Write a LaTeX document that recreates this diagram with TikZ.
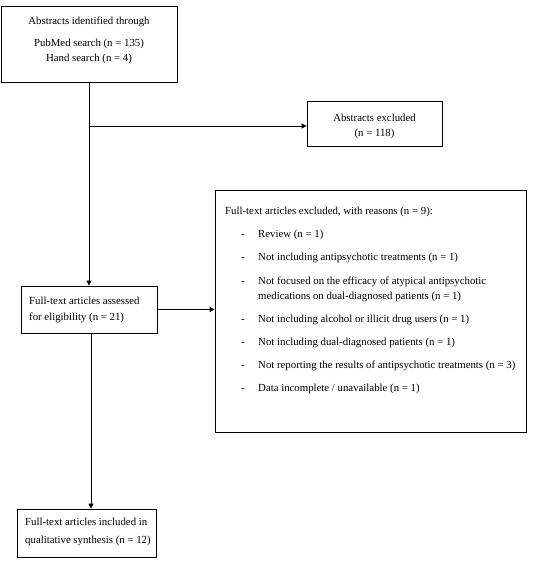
\documentclass[tikz,border=0pt]{standalone}
\usepackage{fontspec}
\setmainfont{Liberation Serif}
\usetikzlibrary{arrows.meta}
\begin{document}
\begin{tikzpicture}[x=1pt,y=1pt,
  box/.style={draw, line width=0.8pt, inner sep=0pt},
  txt/.style={inner sep=0pt, font=\fontsize{10.8}{13}\selectfont},
  arr/.style={line width=0.9pt, -{Triangle[length=5pt,width=5pt]}},
  ln/.style={line width=0.9pt}]
\useasboundingbox (0,0) rectangle (537,-565);
% boxes
\node[box, minimum width=176, minimum height=76] (b1) at (89,-44) {};
\node[box, minimum width=135, minimum height=45] (b2) at (374.5,-123.5) {};
\node[box, minimum width=311, minimum height=242] (b3) at (370.5,-311) {};
\node[box, minimum width=136, minimum height=47] (b4) at (89,-309.5) {};
\node[box, minimum width=139, minimum height=48] (b5) at (86.5,-533) {};
% box 1 text
\node[txt, anchor=base] (t1a) at (89,-24) {Abstracts identified through};
\node[txt, anchor=base] (t1b) at (89,-46) {PubMed search (n = 135)};
\node[txt, anchor=base] (t1c) at (89,-61) {Hand search (n = 4)};
% box 2 text
\node[txt, anchor=base] (t2a) at (374.5,-121) {Abstracts excluded};
\node[txt, anchor=base] (t2b) at (374.5,-136) {(n = 118)};
% box 3 text
\node[txt, anchor=base west] (t3h) at (225,-214) {Full-text articles excluded, with reasons (n = 9):};
\node[txt, anchor=base west] (d1) at (241,-237) {-};
\node[txt, anchor=base west] (r1) at (258,-237) {Review (n = 1)};
\node[txt, anchor=base west] (d2) at (241,-260) {-};
\node[txt, anchor=base west] (r2) at (258,-260) {Not including antipsychotic treatments (n = 1)};
\node[txt, anchor=base west] (d3) at (241,-284) {-};
\node[txt, anchor=base west] (r3a) at (258,-284) {Not focused on the efficacy of atypical antipsychotic};
\node[txt, anchor=base west] (r3b) at (258,-299) {medications on dual-diagnosed patients (n = 1)};
\node[txt, anchor=base west] (d4) at (241,-322) {-};
\node[txt, anchor=base west] (r4) at (258,-322) {Not including alcohol or illicit drug users (n = 1)};
\node[txt, anchor=base west] (d5) at (241,-345) {-};
\node[txt, anchor=base west] (r5) at (258,-345) {Not including dual-diagnosed patients (n = 1)};
\node[txt, anchor=base west] (d6) at (241,-368) {-};
\node[txt, anchor=base west] (r6) at (258,-368) {Not reporting the results of antipsychotic treatments (n = 3)};
\node[txt, anchor=base west] (d7) at (241,-391) {-};
\node[txt, anchor=base west] (r7) at (258,-391) {Data incomplete / unavailable (n = 1)};
% box 4 text
\node[txt, anchor=base west] (t4a) at (29,-304) {Full-text articles assessed};
\node[txt, anchor=base west] (t4b) at (29,-320) {for eligibility (n = 21)};
% box 5 text
\node[txt, anchor=base west] (t5a) at (25,-525) {Full-text articles included in};
\node[txt, anchor=base west] (t5b) at (25,-543) {qualitative synthesis (n = 12)};
% connectors
\coordinate (j1) at (89,-126);
\draw[arr] (b1.south) -- (b4.north);
\draw[arr] (j1) -- (j1 -| b2.west);
\draw[arr] (b4.east) -- (b4.east -| b3.west);
\draw[arr] ([xshift=2pt]b4.south) -- ([xshift=2pt]b4.south |- b5.north);
\end{tikzpicture}
\end{document}
